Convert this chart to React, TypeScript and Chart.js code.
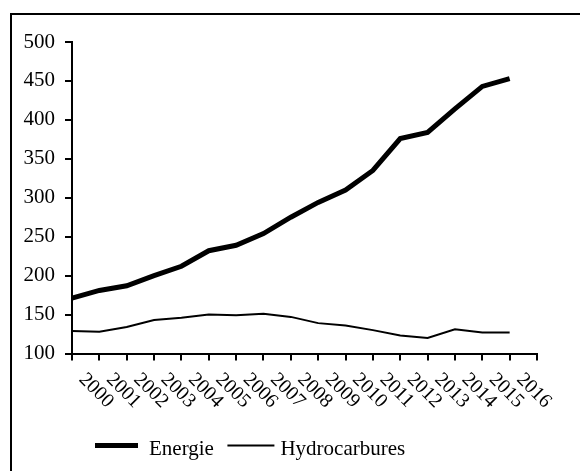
import React, { useEffect, useRef } from 'react';
import { Chart, registerables } from 'chart.js';

Chart.register(...registerables);

const categories = ['2000', '2001', '2002', '2003', '2004', '2005', '2006', '2007', '2008', '2009', '2010', '2011', '2012', '2013', '2014', '2015', '2016'];
const energie = [171, 181, 187, 200, 212, 232, 239, 254, 275, 294, 310, 335, 376, 384, 414, 443, 453];
const hydrocarbures = [129, 128, 134, 143, 146, 150, 149, 151, 147, 139, 136, 130, 123, 120, 131, 127, 127];
const seriesNames = ['Energie', 'Hydrocarbures'];
const yMin = 100;
const yMax = 500;
const yStep = 50;

const FONT = '"Liberation Serif", "Times New Roman", serif';

const decor = {
  id: 'decor',
  beforeDraw(chart: any) {
    const ctx = chart.ctx;
    ctx.save();
    ctx.strokeStyle = '#000';
    ctx.lineWidth = 2;
    ctx.beginPath();
    ctx.moveTo(11, 600);
    ctx.lineTo(11, 14);
    ctx.lineTo(700, 14);
    ctx.stroke();
    ctx.restore();
  },
  afterDraw(chart: any) {
    const ctx = chart.ctx;
    const xs = chart.scales.x;
    ctx.save();
    ctx.fillStyle = '#000';
    ctx.font = `20px ${FONT}`;
    ctx.textAlign = 'left';
    ctx.textBaseline = 'middle';
    categories.forEach((c, i) => {
      const px = xs.getPixelForValue(i);
      ctx.save();
      ctx.translate(px + 10, xs.top + 23);
      ctx.rotate(Math.PI / 4);
      ctx.fillText(c, 0, 0);
      ctx.restore();
    });
    // legend
    ctx.font = `21px ${FONT}`;
    ctx.textBaseline = 'alphabetic';
    const swatchW = [43, 47];
    let lx = 95;
    const ly = 445.5;
    chart.data.datasets.forEach((ds: any, i: number) => {
      ctx.strokeStyle = ds.borderColor;
      ctx.lineWidth = ds.borderWidth;
      ctx.beginPath();
      ctx.moveTo(lx, ly);
      ctx.lineTo(lx + swatchW[i], ly);
      ctx.stroke();
      lx += swatchW[i] + (i === 0 ? 11 : 6);
      ctx.fillText(ds.label, lx, 455);
      lx += ctx.measureText(ds.label).width + 13.5;
    });
    ctx.restore();
  },
};

export default function App() {
  const ref = useRef<HTMLCanvasElement>(null);
  useEffect(() => {
    if (!ref.current) return;
    const axisGrid = {
      display: true,
      drawOnChartArea: false,
      drawTicks: true,
      tickLength: 7,
      color: '#000',
      lineWidth: 2,
    };
    const chart = new Chart(ref.current, {
      type: 'line',
      data: {
        labels: [...categories, ''],
        datasets: [
          {
            label: seriesNames[0],
            data: energie,
            borderColor: '#000',
            backgroundColor: '#000',
            borderWidth: 5,
            pointRadius: 0,
            tension: 0,
            borderJoinStyle: 'miter',
          },
          {
            label: seriesNames[1],
            data: hydrocarbures,
            borderColor: '#000',
            backgroundColor: '#000',
            borderWidth: 2,
            pointRadius: 0,
            tension: 0,
          },
        ],
      },
      options: {
        responsive: false,
        animation: false,
        devicePixelRatio: 1,
        layout: { padding: { left: 0, right: 43, top: 42, bottom: 0 } },
        plugins: {
          legend: { display: false },
          tooltip: { enabled: false },
          title: { display: false },
        },
        scales: {
          x: {
            type: 'category',
            offset: false,
            grid: axisGrid,
            border: { display: true, color: '#000', width: 2 },
            ticks: { autoSkip: false, maxRotation: 0, callback: () => '' },
            afterFit: (s: any) => {
              s.height = 117.5;
            },
          },
          y: {
            min: yMin,
            max: yMax,
            grid: axisGrid,
            border: { display: true, color: '#000', width: 2 },
            ticks: {
              stepSize: yStep,
              color: '#000',
              padding: 10,
              font: { family: FONT, size: 21 },
            },
            afterFit: (s: any) => {
              s.width = 72;
            },
          },
        },
      },
      plugins: [decor],
    } as any);
    return () => chart.destroy();
  }, []);
  return (
    <div style={{ position: 'absolute', left: 0, top: 0, width: 580, height: 471, overflow: 'hidden', background: '#fff' }}>
      <canvas ref={ref} width={580} height={471} style={{ display: 'block' }} />
    </div>
  );
}
